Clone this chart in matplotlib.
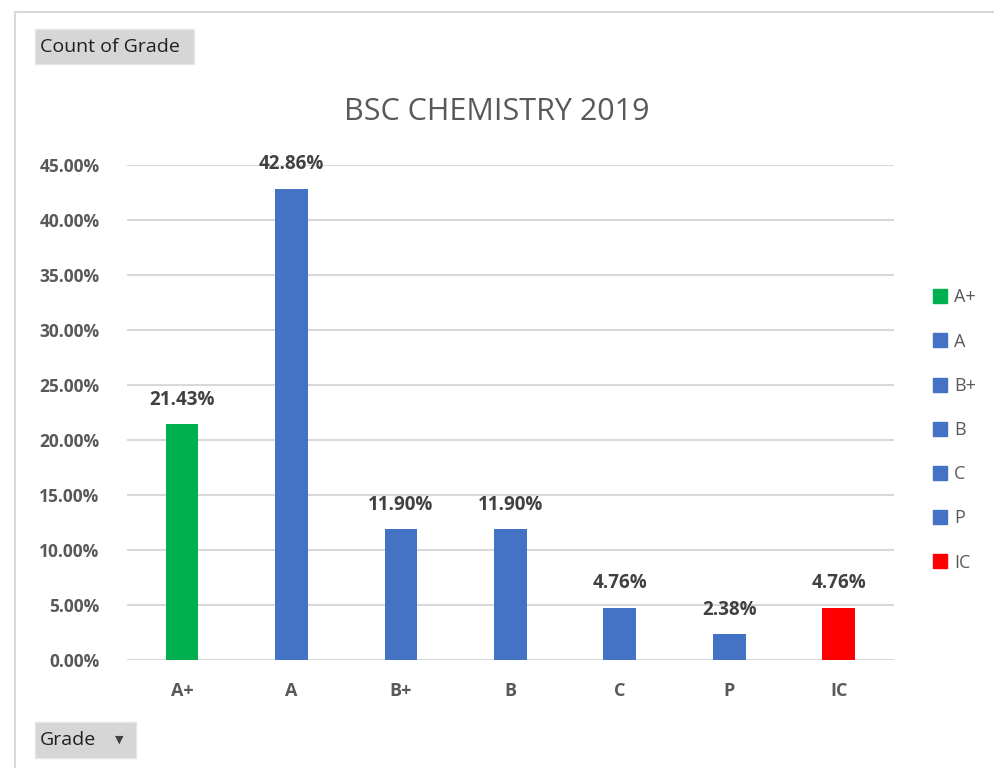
import matplotlib.pyplot as plt
from matplotlib.patches import Rectangle
from matplotlib.lines import Line2D

# grade distribution for BSC chemistry 2019
grades = ['A+', 'A', 'B+', 'B', 'C', 'P', 'IC']
percent = [21.43, 42.86, 11.90, 11.90, 4.76, 2.38, 4.76]
colors = ['#00B050', '#4472C4', '#4472C4', '#4472C4', '#4472C4', '#4472C4', '#FF0000']
yticks = [0, 5, 10, 15, 20, 25, 30, 35, 40, 45]

plt.rcParams['font.family'] = ['Open Sans', 'DejaVu Sans']

fig = plt.figure(figsize=(9.94, 7.68), dpi=100)
ax = fig.add_axes([0.128, 0.1406, 0.771, 0.6445])

x = range(len(grades))
bars = ax.bar(x, percent, width=0.3, color=colors, zorder=3)

for b, v in zip(bars, percent):
    ax.text(b.get_x() + b.get_width() / 2, v + 1.3, f'{v:.2f}%', ha='center', va='bottom',
            fontsize=13.5, fontweight='bold', color='#404040')

ax.set_xlim(-0.5, len(grades) - 0.5)
ax.set_ylim(0, 45)
ax.set_yticks(yticks)
ax.set_yticklabels([f'{t:.2f}%' for t in yticks], fontsize=12.5, fontweight='bold', color='#595959')
ax.set_xticks(list(x))
ax.set_xticklabels(grades, fontsize=13, fontweight='bold', color='#595959')
ax.tick_params(length=0, axis='y', pad=20)
ax.tick_params(length=0, axis='x', pad=16)
ax.grid(axis='y', color='#D9D9D9', linewidth=1.5, zorder=0)
for s in ax.spines.values():
    s.set_visible(False)
ax.set_axisbelow(True)

fig.text(0.5, 1 - 112 / 768, 'BSC CHEMISTRY 2019', ha='center', va='center', fontsize=22, color='#595959')

# legend
handles = [Line2D([0], [0], marker='s', linestyle='none', markersize=10, color=c) for c in colors]
fig.legend(handles, grades, loc='center left', bbox_to_anchor=(0.92, 1 - 430 / 768), frameon=False,
           fontsize=13, labelcolor='#595959', handletextpad=0.3, labelspacing=1.45, handlelength=1)

# outer chart border
fig.add_artist(Rectangle((15 / 994, -0.05), 1.0, 1 - 12 / 768 + 0.05, transform=fig.transFigure,
                         fill=False, edgecolor='#D9D9D9', linewidth=1.5))

# pivot buttons
fig.add_artist(Rectangle((35 / 994, 1 - 64 / 768), 159 / 994, 35 / 768, transform=fig.transFigure,
                         facecolor='#D6D6D6', edgecolor='#E6E6E6', linewidth=1))
fig.text(40 / 994, 1 - 47 / 768, 'Count of Grade', ha='left', va='center', fontsize=14, color='#1F1F1F')
fig.add_artist(Rectangle((35 / 994, 1 - 758 / 768), 101 / 994, 36 / 768, transform=fig.transFigure,
                         facecolor='#D6D6D6', edgecolor='#E6E6E6', linewidth=1))
fig.text(40 / 994, 1 - 740 / 768, 'Grade', ha='left', va='center', fontsize=14, color='#1F1F1F')
fig.text(119 / 994, 1 - 740 / 768, '▼', ha='center', va='center', fontsize=8, color='#404040',
         family='DejaVu Sans')

fig.savefig('out.png', dpi=100)
